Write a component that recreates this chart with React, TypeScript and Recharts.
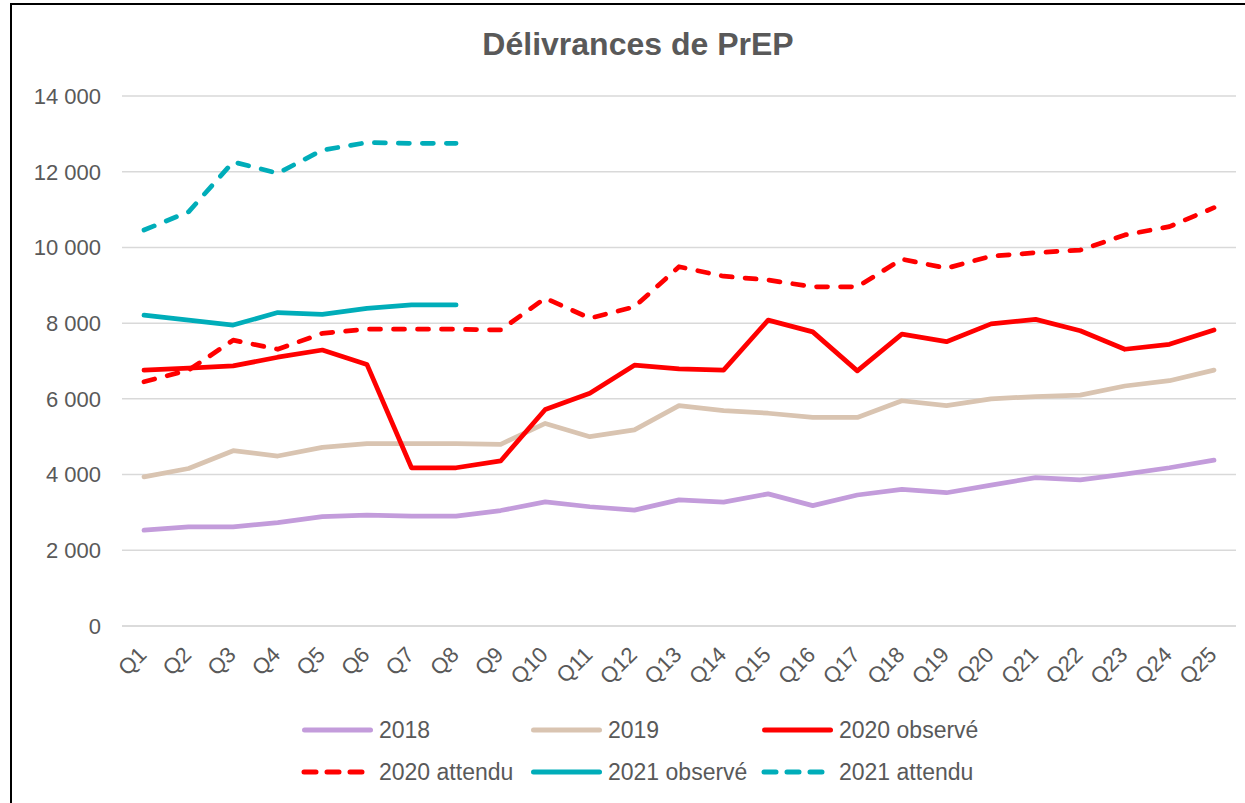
import React from 'react';
import { LineChart, Line, XAxis, YAxis, CartesianGrid, Legend } from 'recharts';

const categories = ['Q1','Q2','Q3','Q4','Q5','Q6','Q7','Q8','Q9','Q10','Q11','Q12','Q13','Q14','Q15','Q16','Q17','Q18','Q19','Q20','Q21','Q22','Q23','Q24','Q25'];
const v2018 = [2530,2620,2620,2730,2890,2930,2900,2900,3050,3280,3150,3060,3330,3270,3490,3180,3460,3610,3520,3720,3920,3860,4010,4180,4380];
const v2019 = [3940,4160,4630,4490,4720,4820,4820,4820,4800,5350,5000,5180,5820,5690,5620,5510,5510,5950,5820,6000,6060,6100,6340,6480,6760];
const v2020obs = [6760,6810,6870,7100,7290,6910,4180,4180,4360,5720,6150,6890,6790,6760,8080,7770,6740,7710,7510,7980,8100,7800,7310,7440,7820];
const v2020att = [6450,6760,7550,7310,7730,7840,7840,7840,7820,8660,8130,8430,9490,9240,9140,8960,8960,9690,9450,9770,9860,9930,10330,10550,11050];
const v2021obs = [8210,8080,7950,8280,8230,8390,8480,8480];
const v2021att = [10460,10940,12260,11960,12570,12770,12750,12750];
const yTicks = [0,2000,4000,6000,8000,10000,12000,14000];
const seriesNames = ['2018','2019','2020 observé','2020 attendu','2021 observé','2021 attendu'];
const seriesValues = [v2018, v2019, v2020obs, v2020att, v2021obs, v2021att];

const seriesStyles = [
  { color: '#C39CDB', dashed: false },
  { color: '#D9C4B1', dashed: false },
  { color: '#FF0000', dashed: false },
  { color: '#FF0000', dashed: true },
  { color: '#00ADB9', dashed: false },
  { color: '#00ADB9', dashed: true },
];

const FONT = '"Liberation Sans", Arial, sans-serif';
const TEXT = '#595959';

const data = categories.map((q, i) => {
  const row: Record<string, any> = { q };
  seriesValues.forEach((arr, k) => {
    row['s' + k] = arr[i] !== undefined ? arr[i] : null;
  });
  return row;
});

const fmt = (v: number) => {
  const s = String(v);
  if (s.length <= 3) return s;
  return s.slice(0, s.length - 3) + ' ' + s.slice(s.length - 3);
};

const XTick = (props: any) => {
  const { x, y, payload } = props;
  return (
    <g transform={`translate(${x + 4},${y + 22})`}>
      <text x={0} y={0} textAnchor="end" transform="rotate(-45)" fill={TEXT} fontSize={22} fontFamily={FONT}>
        {payload.value}
      </text>
    </g>
  );
};

const colLeft = [302, 531, 762];
const rowCenter = [20, 62];

const renderLegend = () => (
  <div style={{ position: 'relative', width: 1245, height: 80 }}>
    {seriesNames.map((name, i) => {
      const st = seriesStyles[i];
      const col = i % 3;
      const row = Math.floor(i / 3);
      const left = colLeft[col];
      const cy = rowCenter[row];
      return (
        <React.Fragment key={name}>
          <svg style={{ position: 'absolute', left: left - 2, top: cy - 10 }} width={76} height={20}>
            <line
              x1={st.dashed ? 4 : 4.5}
              y1={10}
              x2={st.dashed ? 62 : 70.5}
              y2={10}
              stroke={st.color}
              strokeWidth={5}
              strokeLinecap="round"
              strokeDasharray={st.dashed ? '12 11' : undefined}
            />
          </svg>
          <div
            style={{
              position: 'absolute',
              left: left + 77,
              top: cy - 15,
              height: 30,
              lineHeight: '30px',
              fontSize: 23,
              fontFamily: FONT,
              color: TEXT,
              whiteSpace: 'nowrap',
            }}
          >
            {name}
          </div>
        </React.Fragment>
      );
    })}
  </div>
);

export default function App() {
  return (
    <div style={{ position: 'absolute', left: 0, top: 0, width: 1245, height: 803, overflow: 'hidden', background: '#fff' }}>
      <div
        style={{
          position: 'absolute',
          left: 10,
          top: 3,
          width: 1300,
          height: 900,
          border: '2px solid #000',
          boxSizing: 'border-box',
        }}
      />
      <div
        style={{
          position: 'absolute',
          left: 10,
          top: 28,
          width: 1256,
          textAlign: 'center',
          fontFamily: FONT,
          fontWeight: 'bold',
          fontSize: 32,
          lineHeight: '32px',
          color: TEXT,
        }}
      >
        Délivrances de PrEP
      </div>
      <div style={{ position: 'absolute', left: 0, top: 0 }}>
        <LineChart width={1245} height={803} data={data} margin={{ top: 96, right: 9, bottom: 13, left: 0 }}>
          <CartesianGrid vertical={false} stroke="#D9D9D9" strokeWidth={1.5} />
          <XAxis
            dataKey="q"
            axisLine={{ stroke: '#D9D9D9', strokeWidth: 1.5 }}
            tickLine={false}
            interval={0}
            height={84}
            padding={{ left: 22, right: 22 }}
            tick={<XTick />}
          />
          <YAxis
            width={122}
            domain={[0, 14000]}
            ticks={yTicks}
            axisLine={false}
            tickLine={false}
            tickMargin={15}
            tickFormatter={fmt}
            tick={{ fill: TEXT, fontSize: 22, fontFamily: FONT }}
          />
          <Legend verticalAlign="bottom" content={renderLegend} wrapperStyle={{ left: 0, width: 1245, height: 80 }} />
          {seriesNames.map((name, k) => (
            <Line
              key={name}
              type="linear"
              dataKey={'s' + k}
              name={name}
              stroke={seriesStyles[k].color}
              strokeWidth={4.75}
              strokeDasharray={seriesStyles[k].dashed ? '11 13' : undefined}
              strokeLinecap="round"
              strokeLinejoin="round"
              dot={false}
              activeDot={false}
              connectNulls={false}
              isAnimationActive={false}
            />
          ))}
        </LineChart>
      </div>
    </div>
  );
}
